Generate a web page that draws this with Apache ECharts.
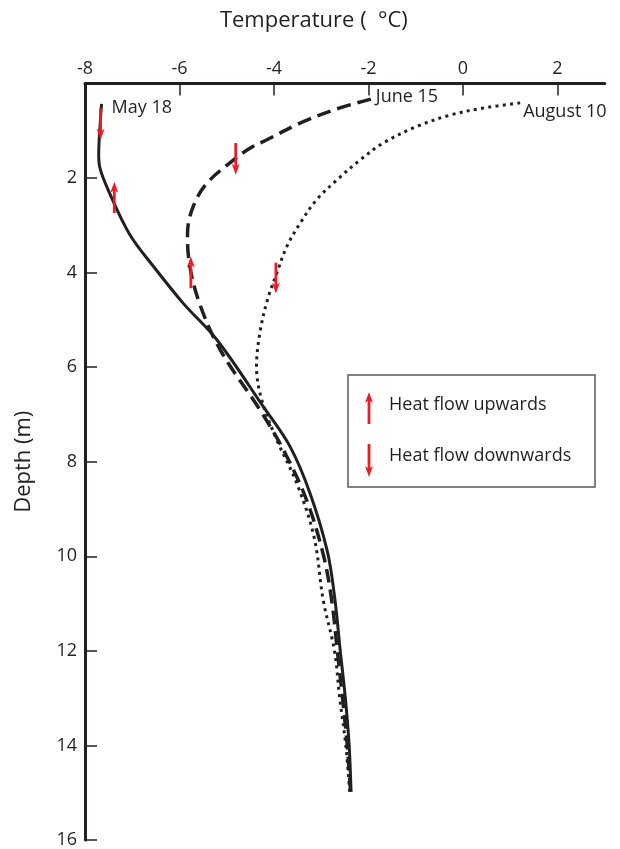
<!DOCTYPE html>
<html>
<head>
<meta charset="utf-8">
<script src="https://cdn.jsdelivr.net/npm/echarts@6/dist/echarts.min.js"></script>
<style>html,body{margin:0;padding:0;background:#fff}#c{width:620px;height:849px}</style>
</head>
<body>
<div id="c"></div>
<script>
// ---- data (temperature °C, depth m) ----
var xTicks = [-8, -6, -4, -2, 0, 2];
var yTicks = [2, 4, 6, 8, 10, 12, 14, 16];

var may18 = [[-7.65,0.43],[-7.70,1.19],[-7.71,1.5],[-7.69,1.76],[-7.51,2.25],[-7.05,3.20],[-6.55,3.87],[-5.92,4.65],[-5.21,5.42],[-4.23,6.83],[-3.66,7.68],[-3.24,8.66],[-2.87,9.9],[-2.71,10.92],[-2.60,11.98],[-2.49,13.0],[-2.41,13.99],[-2.37,14.98]];
var june15 = [[-1.95,0.33],[-2.74,0.56],[-3.45,0.84],[-4.15,1.19],[-4.51,1.37],[-4.86,1.62],[-5.42,2.11],[-5.71,2.60],[-5.83,3.17],[-5.81,3.66],[-5.60,4.58],[-5.14,5.63],[-4.30,6.90],[-3.80,7.75],[-3.31,8.81],[-2.96,9.95],[-2.78,10.92],[-2.66,12.0],[-2.55,13.0],[-2.45,14.0],[-2.38,14.98]];
var aug10 = [[1.21,0.41],[0.43,0.52],[-0.28,0.67],[-0.98,0.91],[-1.69,1.26],[-2.18,1.62],[-2.67,2.04],[-3.10,2.46],[-3.45,2.96],[-3.73,3.45],[-3.94,4.01],[-4.14,4.58],[-4.30,5.28],[-4.37,5.99],[-4.26,6.69],[-3.94,7.54],[-3.52,8.45],[-3.15,9.6],[-2.96,10.92],[-2.72,12.0],[-2.61,13.0],[-2.48,14.0],[-2.40,14.98]];

var seriesNames = ['May 18', 'June 15', 'August 10'];
// heat-flow arrows: [temperature, depth at tail, depth at head]
var arrowsUp = [[-7.38,2.74,2.08],[-5.76,4.33,3.66]];
var arrowsDown = [[-7.67,0.52,1.19],[-4.81,1.26,1.93],[-3.96,3.79,4.44]];
var legendTexts = ['Heat flow upwards', 'Heat flow downwards'];

// ---- chart ----
var INK = '#231f20', RED = '#ed1c24', FONT = '"Open Sans", "Noto Sans", sans-serif';
var chart = echarts.init(document.getElementById('c'), null, {renderer: 'canvas'});

function arrowShape(x0, y0, x1, y1, z) {
  var dx = x1 - x0, dy = y1 - y0, L = Math.sqrt(dx*dx + dy*dy) || 1;
  var ux = dx / L, uy = dy / L, px = -uy, py = ux;
  var headLen = 11, halfW = 4, notch = 8;
  var a = {type: 'line', shape: {x1: x0, y1: y0, x2: x1 - ux*notch, y2: y1 - uy*notch}, style: {stroke: RED, lineWidth: 2.8}};
  var b = {type: 'polygon', shape: {points: [[x1, y1], [x1 - ux*headLen + px*halfW, y1 - uy*headLen + py*halfW], [x1 - ux*notch, y1 - uy*notch], [x1 - ux*headLen - px*halfW, y1 - uy*headLen - py*halfW]]}, style: {fill: RED}};
  if (z != null) { a.z = z; b.z = z; }
  return [a, b];
}

var arrowData = arrowsUp.concat(arrowsDown);
var labelOffsets = [[10, 4], [5, -2], [3, 9]];
var curves = [may18, june15, aug10];
var labelData = curves.map(function (c, i) { return [c[0][0], c[0][1], i]; });

var graphics = [
  {type: 'rect', z: 10, shape: {x: 348, y: 375, width: 247, height: 112}, style: {fill: '#fff', stroke: '#58595b', lineWidth: 1.5}},
  {type: 'text', left: 389, top: 396, z: 11, style: {text: legendTexts[0], fontFamily: FONT, fontSize: 18, fill: INK}},
  {type: 'text', left: 389, top: 447, z: 11, style: {text: legendTexts[1], fontFamily: FONT, fontSize: 18, fill: INK}}
].concat(arrowShape(369, 424, 369, 392, 11)).concat(arrowShape(369, 444, 369, 477, 11));

var option = {
  animation: false,
  grid: {left: 85, right: 15.25, top: 83.5, bottom: 8.7, containLabel: false},
  xAxis: {
    type: 'value', position: 'top', min: -8, max: 3,
    name: 'Temperature (  °C)', nameLocation: 'middle', nameGap: 52,
    nameTextStyle: {fontFamily: FONT, fontSize: 22, color: INK, padding: [0, 62, 0, 0]},
    axisLine: {show: true, onZero: false, lineStyle: {color: INK, width: 3}},
    axisTick: {show: true, inside: true, length: 12, customValues: xTicks, lineStyle: {color: INK, width: 1.5}},
    axisLabel: {show: true, margin: 6, customValues: xTicks, fontFamily: FONT, fontSize: 18, color: INK},
    splitLine: {show: false}
  },
  yAxis: {
    type: 'value', inverse: true, min: 0, max: 16,
    name: 'Depth (m)', nameLocation: 'middle', nameGap: 50, nameRotate: 90,
    nameTextStyle: {fontFamily: FONT, fontSize: 22, color: INK},
    axisLine: {show: true, onZero: false, lineStyle: {color: INK, width: 3}},
    axisTick: {show: true, inside: true, length: 12, customValues: yTicks, lineStyle: {color: INK, width: 1.5}},
    axisLabel: {show: true, margin: 8, customValues: yTicks, fontFamily: FONT, fontSize: 18, color: INK},
    splitLine: {show: false}
  },
  series: [
    {type: 'line', name: seriesNames[0], data: may18, smooth: 0.35, symbol: 'none', lineStyle: {color: INK, width: 3}, z: 3},
    {type: 'line', name: seriesNames[1], data: june15, smooth: 0.35, symbol: 'none', lineStyle: {color: INK, width: 3.5, type: [14, 7]}, z: 3},
    {type: 'line', name: seriesNames[2], data: aug10, smooth: 0.35, symbol: 'none', lineStyle: {color: INK, width: 3, type: [3, 4.3], cap: 'butt'}, z: 3},
    {
      type: 'custom', z: 4, silent: true, clip: false,
      data: labelData,
      renderItem: function (params, api) {
        var i = api.value(2);
        var p = api.coord([api.value(0), api.value(1)]);
        return {type: 'text', x: p[0] + labelOffsets[i][0], y: p[1] + labelOffsets[i][1],
          style: {text: seriesNames[i], fontFamily: FONT, fontSize: 18, fill: INK, align: 'left', verticalAlign: 'middle'}};
      }
    },
    {
      type: 'custom', z: 5, silent: true,
      data: arrowData,
      renderItem: function (params, api) {
        var p0 = api.coord([api.value(0), api.value(1)]);
        var p1 = api.coord([api.value(0), api.value(2)]);
        return {type: 'group', children: arrowShape(p0[0], p0[1], p1[0], p1[1])};
      }
    }
  ],
  graphic: graphics
};
chart.setOption(option);
</script>
</body>
</html>
